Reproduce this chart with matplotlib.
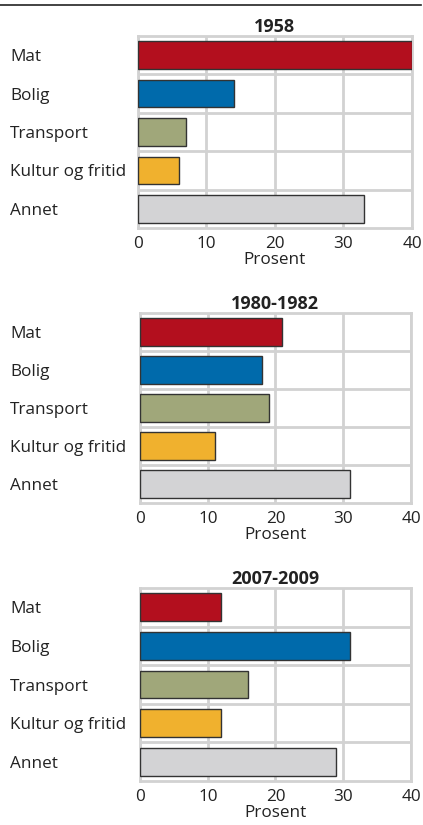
import matplotlib
matplotlib.use("Agg")
import matplotlib.pyplot as plt
from matplotlib.lines import Line2D

plt.rcParams['font.family'] = ['Open Sans', 'DejaVu Sans']

categories = ["Mat", "Bolig", "Transport", "Kultur og fritid", "Annet"]
titles = ["1958", "1980-1982", "2007-2009"]
values_1958 = [40, 14, 7, 6, 33]
values_1980 = [21, 18, 19, 11, 31]
values_2007 = [12, 31, 16, 12, 29]
xticks = [0, 10, 20, 30, 40]
colors = ["#b30f1e", "#006aab", "#a0a77a", "#f0b12e", "#d3d3d5"]

fig = plt.figure(figsize=(4.23, 8.25), dpi=100)
positions = [
    [0.326, 0.7236, 0.648, 0.2328],
    [0.331, 0.3903, 0.6406, 0.2303],
    [0.331, 0.0533, 0.6406, 0.2340],
]
grid_c = "#d2d2d2"
label_x_px = 10
for pos, title, vals in zip(positions, titles, [values_1958, values_1980, values_2007]):
    ax = fig.add_axes(pos)
    y = list(range(len(categories)))
    ax.barh(y, vals, height=0.72, color=colors, edgecolor="#333333", linewidth=1.0, zorder=3)
    ax.set_xlim(0, 40)
    ax.set_ylim(len(categories) - 0.5, -0.5)
    ax.set_xticks(xticks)
    ax.set_yticks(y)
    ax.set_yticklabels(categories, fontsize=12.3, color="#222222")
    ax.set_yticks([i + 0.5 for i in range(len(categories) - 1)], minor=True)
    ax.grid(True, which="major", axis="x", color=grid_c, linewidth=2, zorder=0)
    ax.grid(True, which="minor", axis="y", color=grid_c, linewidth=2, zorder=0)
    ax.tick_params(axis="both", which="both", length=0)
    pad_pt = (pos[0] * 423 - label_x_px) * 72 / 100
    ax.tick_params(axis="y", pad=pad_pt)
    for lab in ax.get_yticklabels():
        lab.set_horizontalalignment("left")
    ax.tick_params(axis="x", labelsize=12.3, pad=6, colors="#222222")
    for s in ax.spines.values():
        s.set_color(grid_c)
        s.set_linewidth(2)
    ax.set_xlabel("Prosent", fontsize=12.3, color="#222222", labelpad=0)
    ax.set_title(title, fontsize=13, fontweight="bold", color="#222222", pad=3)

fig.add_artist(Line2D([0.0, 0.995], [1 - 5 / 825, 1 - 5 / 825], color="#222222", linewidth=1.2))
fig.savefig("out.png", dpi=100)
